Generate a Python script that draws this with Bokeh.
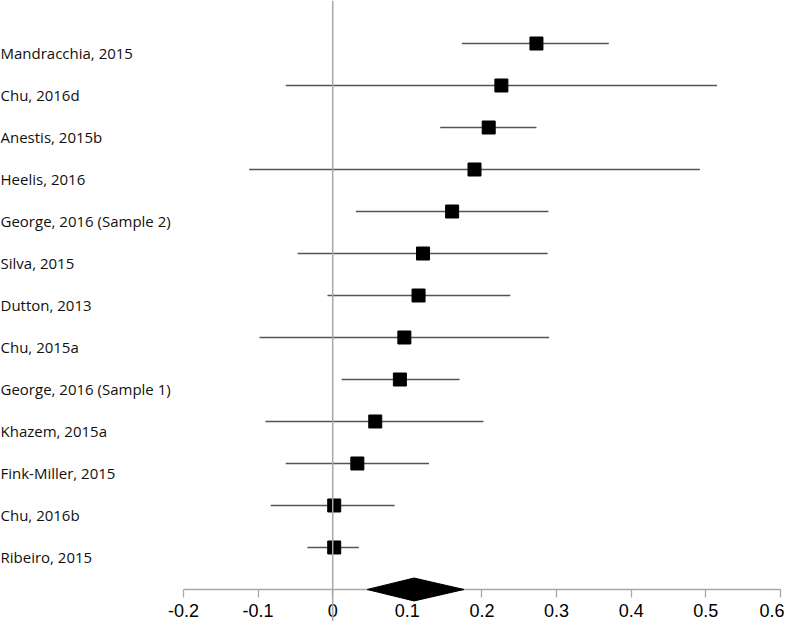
from bokeh.plotting import figure
from bokeh.models import (LinearAxis, FixedTicker, Span, ColumnDataSource, LabelSet, Range1d)
from bokeh.core.properties import value
from bokeh.embed import file_html
from bokeh.resources import INLINE

# ---- data ----
studies = ["Mandracchia, 2015", "Chu, 2016d", "Anestis, 2015b", "Heelis, 2016",
           "George, 2016 (Sample 2)", "Silva, 2015", "Dutton, 2013", "Chu, 2015a",
           "George, 2016 (Sample 1)", "Khazem, 2015a", "Fink-Miller, 2015",
           "Chu, 2016b", "Ribeiro, 2015"]
effect = [0.273, 0.226, 0.209, 0.190, 0.160, 0.121, 0.115, 0.096, 0.090, 0.057, 0.033, 0.002, 0.002]
lower = [0.173, -0.063, 0.144, -0.112, 0.031, -0.047, -0.007, -0.098, 0.012, -0.090, -0.063, -0.083, -0.034]
upper = [0.370, 0.515, 0.273, 0.492, 0.289, 0.288, 0.238, 0.290, 0.170, 0.202, 0.129, 0.083, 0.035]
pooled_effect = 0.109
pooled_lower = 0.046
pooled_upper = 0.176
tick_values = [-0.2, -0.1, 0, 0.1, 0.2, 0.3, 0.4, 0.5, 0.6]
tick_labels = ["-0.2", "-0.1", "0", "0.1", "0.2", "0.3", "0.4", "0.5", "0.6"]

n = len(studies)
rows = [n - i for i in range(n)]

W, H = 784, 621
p = figure(width=W, height=H, output_backend="svg", toolbar_location=None,
           x_axis_location=None, y_axis_location=None,
           x_range=Range1d(-0.4452, 0.6054), y_range=Range1d(-0.762, 14.024),
           min_border=0, outline_line_color=None)
p.xgrid.visible = False
p.ygrid.visible = False
p.background_fill_color = "white"

# zero line
p.add_layout(Span(location=0, dimension="height", line_color="#a8a8a8", line_width=1.5))

src = ColumnDataSource(dict(study=studies, effect=effect, lower=lower, upper=upper, row=rows))
p.segment(x0="lower", x1="upper", y0="row", y1="row", source=src,
          line_color="#555555", line_width=1.6)
p.scatter(x="effect", y="row", source=src, marker="square", size=13,
          fill_color="black", line_color="black")

# pooled diamond
half_h = 0.273
p.patch(x=[pooled_lower, pooled_effect, pooled_upper, pooled_effect],
        y=[0, half_h, 0, -half_h], fill_color="black", line_color="black", level="overlay")

# study labels
labels = LabelSet(x=0, y="row", x_units="screen", text="study", source=src,
                  text_font=value("Open Sans"), text_font_size="15px", text_color="#111111",
                  text_baseline="middle", text_align="left", y_offset=-9.5)
p.add_layout(labels)

xaxis = LinearAxis(ticker=FixedTicker(ticks=tick_values), bounds=(-0.2, 0.6),
                   fixed_location=0,
                   axis_line_color="#a8a8a8", axis_line_width=1.3,
                   major_tick_line_color="#a8a8a8", major_tick_line_width=1.3,
                   major_tick_out=8, major_tick_in=0,
                   minor_tick_out=0, minor_tick_in=0,
                   major_label_text_font="Liberation Sans",
                   major_label_text_font_size="18px",
                   major_label_text_color="black",
                   major_label_standoff=7,
                   major_label_overrides={v: l for v, l in zip(tick_values, tick_labels)})
p.add_layout(xaxis, "below")

open("out.html", "w").write(file_html(p, INLINE))
